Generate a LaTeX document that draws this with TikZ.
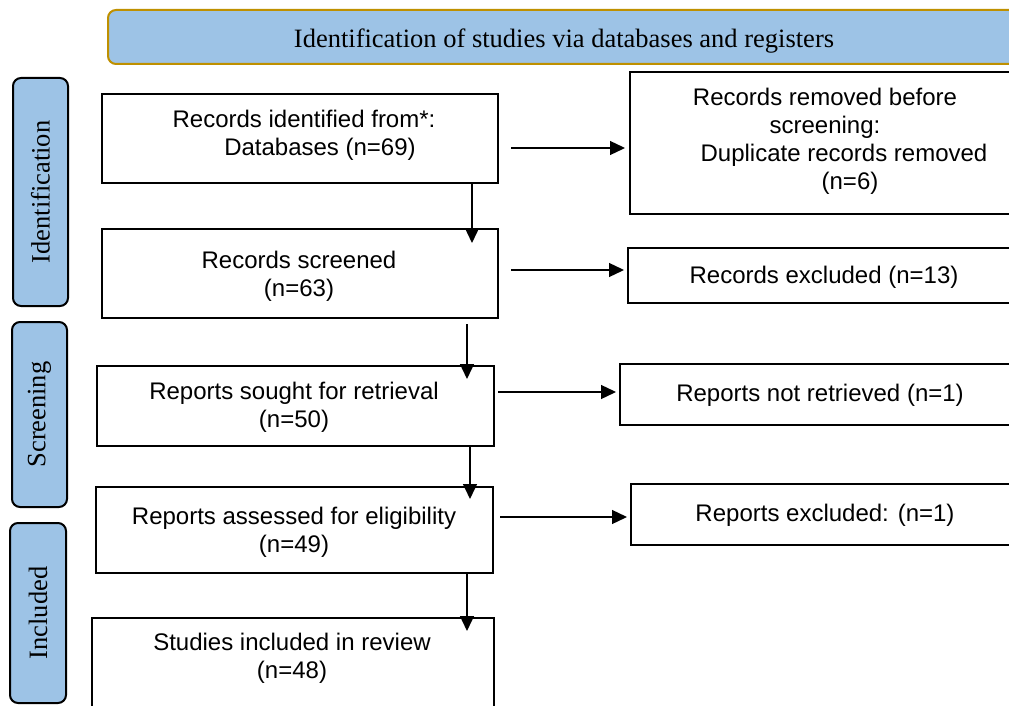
\documentclass[tikz,border=0pt]{standalone}
\usepackage{fontspec}
\setmainfont{Liberation Serif}
\newfontfamily\arialf{Liberation Sans}
\usetikzlibrary{arrows.meta,positioning}
\definecolor{bandblue}{HTML}{9DC3E6}
\definecolor{bandgold}{HTML}{BF9000}
\tikzset{
  flowbox/.style={draw=black, line width=2.2pt, fill=white, inner sep=0pt,
    anchor=north west, align=center, font=\arialf\fontsize{24}{28}\selectfont},
  flowtext/.style={inner sep=0pt, align=center, font=\arialf\fontsize{24}{28}\selectfont},
  phasebox/.style={draw=black, line width=2pt, fill=bandblue, rounded corners=8pt,
    rotate=90, inner sep=0pt, font=\fontsize{26.5}{30}\selectfont},
  titlebox/.style={draw=bandgold, line width=2pt, fill=bandblue, rounded corners=8pt,
    inner sep=0pt, font=\fontsize{26.5}{30}\selectfont},
  arr/.style={line width=1.3pt, -{Triangle[length=15pt,width=14pt]}},
}
\begin{document}
\begin{tikzpicture}[x=1pt,y=-1pt]
\useasboundingbox (0,0) rectangle (1009,706);
\clip (0,0) rectangle (1009,706);
\fill[white] (0,0) rectangle (1009,706);

% title banner
\node[titlebox, minimum width=912pt, minimum height=54pt] (title) at (564,37)
  {\raisebox{-10.5pt}[0pt][0pt]{Identification of studies via databases and registers}};

% phase labels
\node[phasebox, minimum width=228pt, minimum height=55pt] (ph1) at (40.5,192) {Identification};
\node[phasebox, minimum width=185pt, minimum height=55pt] (ph2) at (39.5,414.5) {Screening};
\node[phasebox, minimum width=180pt, minimum height=56pt] (ph3) at (38,613) {Included};

% main column
\node[flowbox, minimum width=396pt, minimum height=89pt] (b1) at (101,93) {};
\node[flowtext] (b1t) at (304,135) {\hspace*{0pt}Records identified from*:\\\hspace*{32pt}Databases (n=69)};
\node[flowbox, minimum width=396pt, minimum height=89pt] (b2) at (101,228) {};
\node[flowtext] (b2t) at (299,276) {Records screened\\(n=63)};
\node[flowbox, minimum width=397pt, minimum height=80pt] (b3) at (96,365) {};
\node[flowtext] (b3t) at (294,407) {Reports sought for retrieval\\(n=50)};
\node[flowbox, minimum width=397pt, minimum height=86pt] (b4) at (95,486) {};
\node[flowtext] (b4t) at (294,532) {Reports assessed for eligibility\\(n=49)};
\node[flowbox, minimum width=402pt, minimum height=100pt] (b5) at (91,617) {};
\node[flowtext] (b5t) at (292,658) {Studies included in review\\(n=48)};

% right column
\node[flowbox, minimum width=392pt, minimum height=142pt] (r1) at (629,71) {};
\node[flowtext] (r1t) at (825,141)
  {Records removed before\\screening:\\\hspace*{38pt}Duplicate records removed\\\hspace*{50pt}(n=6)};
\node[flowbox, minimum width=394pt, minimum height=55pt] (r2) at (627,247) {};
\node[flowtext] (r2t) at (824,277) {Records excluded (n=13)};
\node[flowbox, minimum width=402pt, minimum height=61pt] (r3) at (619,363) {};
\node[flowtext] (r3t) at (820,395) {Reports not retrieved (n=1)};
\node[flowbox, minimum width=391pt, minimum height=61pt] (r4) at (630,483) {};
\node[flowtext] (r4t) at (825,515) {Reports excluded: (n=1)};

% helper coordinates
\coordinate (h1) at (0,148);
\coordinate (h2) at (0,270);
\coordinate (h3) at (0,392);
\coordinate (h4) at (0,517);
\coordinate (v1) at (472,0);
\coordinate (v2) at (467,0);
\coordinate (v3) at (470,0);
\coordinate (v4) at (467,0);

% horizontal arrows
\draw[arr, shorten <=12pt, shorten >=4pt] (b1.east |- h1) -- (r1.west |- h1);
\draw[arr, shorten <=12pt, shorten >=3pt] (b2.east |- h2) -- (r2.west |- h2);
\draw[arr, shorten <=3pt, shorten >=3pt] (b3.east |- h3) -- (r3.west |- h3);
\draw[arr, shorten <=6pt, shorten >=3pt] (b4.east |- h4) -- (r4.west |- h4);

% vertical arrows
\draw[arr, shorten >=-15pt] (b1.south -| v1) -- (b2.north -| v1);
\draw[arr, shorten <=5pt, shorten >=-14pt] (b2.south -| v2) -- (b3.north -| v2);
\draw[arr, shorten >=-13pt] (b3.south -| v3) -- (b4.north -| v3);
\draw[arr, shorten >=-14pt] (b4.south -| v4) -- (b5.north -| v4);
\end{tikzpicture}
\end{document}
